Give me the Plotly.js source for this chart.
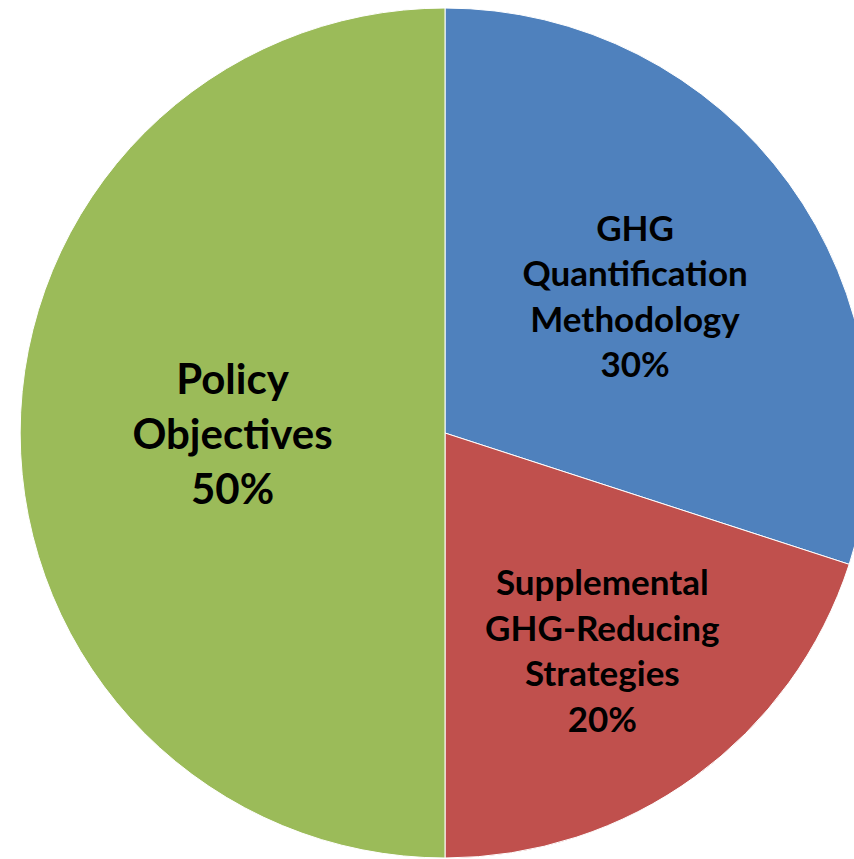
<!DOCTYPE html>
<html>
<head>
<meta charset="utf-8">
<script src="https://cdn.plot.ly/plotly-3.0.1.min.js"></script>
<style>
html, body { margin: 0; padding: 0; overflow: hidden; background: #ffffff; }
#chart { width: 890px; height: 866px; }
</style>
</head>
<body>
<div id="chart"></div>
<script>
const categories = ["GHG Quantification Methodology", "Supplemental GHG-Reducing Strategies", "Policy Objectives"];
const displayLabels = ["GHG<br>Quantification<br>Methodology", "Supplemental<br>GHG-Reducing<br>Strategies", "Policy<br>Objectives"];
const shares = [30, 20, 50];
const colors = ["#4F81BD", "#C0504D", "#9BBB59"];
const fontSizes = [35, 35, 42];

const trace = {
  type: "pie",
  labels: categories,
  values: shares,
  text: displayLabels,
  texttemplate: "%{text}<br>%{percent:.0%}",
  textposition: "inside",
  insidetextorientation: "horizontal",
  insidetextfont: { family: "Lato, 'Open Sans', sans-serif", size: fontSizes, color: "#000000", weight: "bold" },
  sort: false,
  direction: "clockwise",
  rotation: 0,
  marker: { colors: colors, line: { color: "#ffffff", width: 1 } },
  hoverinfo: "label+percent"
};

const layout = {
  width: 890,
  height: 866,
  margin: { l: 20, r: 20, t: 8, b: 8 },
  showlegend: false,
  paper_bgcolor: "#ffffff",
  plot_bgcolor: "#ffffff"
};

Plotly.newPlot("chart", [trace], layout, { staticPlot: true, displayModeBar: false });
</script>
</body>
</html>
